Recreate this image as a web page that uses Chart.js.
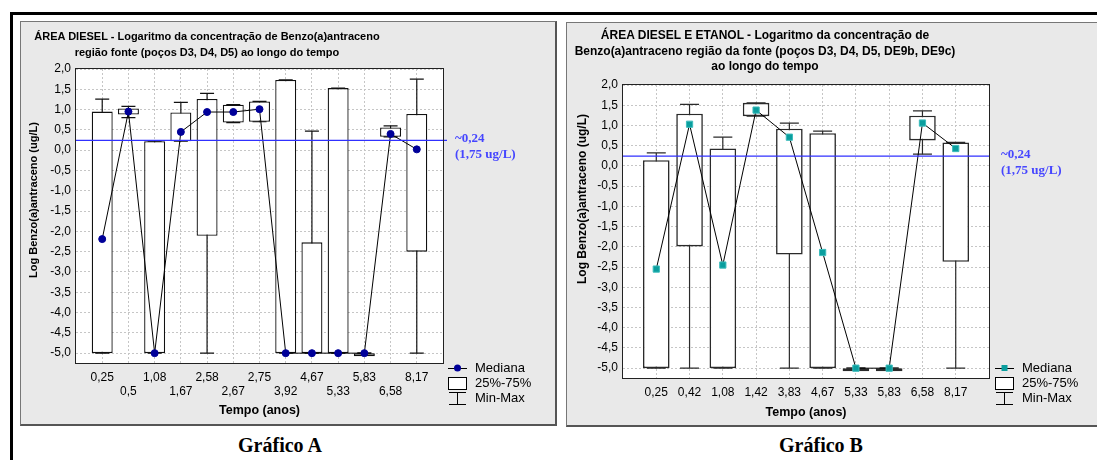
<!DOCTYPE html>
<html>
<head>
<meta charset="utf-8">
<script src="https://cdn.jsdelivr.net/npm/chart.js@4.4.1/dist/chart.umd.min.js"></script>
<style>
  body { margin:0; width:1097px; height:460px; background:#fff; overflow:hidden; position:relative;
         font-family:'Liberation Sans', Arial, sans-serif; color:#000; }
  .frame-top { position:absolute; left:10px; top:12px; width:1087px; height:3px; background:#000; }
  .frame-left { position:absolute; left:10px; top:12px; width:3px; height:448px; background:#000; }
  .panel { position:absolute; background:#e9e9e9; box-sizing:border-box;
           border:1px solid #777; border-right:2px solid #555; border-bottom:2px solid #555; }
  canvas { position:absolute; }
  .title { position:absolute; font-weight:bold; font-size:11px; line-height:16px; text-align:center; white-space:nowrap; }
  .ytitle { position:absolute; width:300px; height:16px; line-height:16px; font-weight:bold; font-size:11px;
            text-align:center; white-space:nowrap; transform:rotate(-90deg); }
  .caption { position:absolute; width:200px; line-height:24px; text-align:center; font-weight:bold; font-size:20px;
             font-family:'Liberation Serif', 'Times New Roman', serif; }
</style>
</head>
<body>
<div class="frame-top"></div>
<div class="frame-left"></div>
<div class="panel" style="left:20px;top:21px;width:537px;height:405px"></div>
<div class="panel" style="left:566px;top:22px;width:545px;height:405px"></div>

<canvas id="chartA" width="535" height="402" style="left:21px;top:22px"></canvas>
<canvas id="chartB" width="530" height="402" style="left:567px;top:23px"></canvas>

<div class="title" style="left:7px;top:28px;width:400px">ÁREA DIESEL - Logaritmo da concentração de Benzo(a)antraceno<br>região fonte (poços D3, D4, D5) ao longo do tempo</div>
<div class="title" style="left:565px;top:28px;width:400px;line-height:15.5px;font-size:12px">ÁREA DIESEL E ETANOL - Logaritmo da concentração de<br>Benzo(a)antraceno região da fonte (poços D3, D4, D5, DE9b, DE9c)<br>ao longo do tempo</div>
<div class="ytitle" style="left:-117px;top:192px">Log Benzo(a)antraceno (ug/L)</div>
<div class="ytitle" style="left:432px;top:191px;font-size:12px">Log Benzo(a)antraceno (ug/L)</div>
<div class="caption" style="left:180px;top:433px">Gráfico A</div>
<div class="caption" style="left:721px;top:433px">Gráfico B</div>

<script>
// Gráfico A - área diesel
const catsA = ['0,25', '0,5', '1,08', '1,67', '2,58', '2,67', '2,75', '3,92', '4,67', '5,33', '5,83', '6,58', '8,17'];
const minA  = [-5, 0.80, -5, 0.22, -5, 0.68, 0.70, -5, -5, -5, -5, 0.33, -5];
const q1A   = [-5, 0.88, -5, 0.22, -2.11, 0.68, 0.70, -5, -5, -5, -5, 0.33, -2.50];
const medA  = [-2.19, 0.95, -5, 0.45, 0.94, 0.94, 1.01, -5, -5, -5, -5, 0.40, 0.02];
const q3A   = [0.95, 1.03, 0.22, 0.93, 1.26, 1.12, 1.20, 1.73, -2.27, 1.53, -5, 0.56, 0.89];
const maxA  = [1.26, 1.08, 0.22, 1.18, 1.40, 1.12, 1.20, 1.73, 0.47, 1.53, -5, 0.60, 1.75];

// Gráfico B - área diesel e etanol
const catsB = ['0,25', '0,42', '1,08', '1,42', '3,83', '4,67', '5,33', '5,83', '6,58', '8,17'];
const minB  = [-5, -5, -5, 1.23, -5, -5, -5, -5, 0.29, -5];
const q1B   = [-5, -1.99, -5, 1.23, -2.19, -5, -5, -5, 0.63, -2.37];
const medB  = [-2.55, 1.03, -2.45, 1.38, 0.71, -2.14, -5, -5, 1.06, 0.43];
const q3B   = [0.14, 1.29, 0.43, 1.56, 0.92, 0.81, -5, -5, 1.24, 0.58];
const maxB  = [0.32, 1.52, 0.71, 1.56, 1.06, 0.86, -5, -5, 1.36, 0.58];

const yTicks = [-5, -4.5, -4, -3.5, -3, -2.5, -2, -1.5, -1, -0.5, 0, 0.5, 1, 1.5, 2];
const threshold = 0.24;
const thresholdLabel = ['~0,24', '(1,75 ug/L)'];
const legendItems = ['Mediana', '25%-75%', 'Min-Max'];
const xTitle = 'Tempo (anos)';

Chart.defaults.font.family = "'Liberation Sans', Arial, sans-serif";
Chart.defaults.color = '#000';

const fmt = v => v.toFixed(1).replace('.', ',');

// white plot area, threshold line, frame and legend
const boxExtras = {
  id: 'boxExtras',
  beforeDraw(chart) {
    const {ctx, chartArea: a} = chart;
    ctx.save();
    ctx.fillStyle = '#fff';
    ctx.fillRect(a.left, a.top, a.width, a.height);
    ctx.restore();
  },
  afterDatasetsDraw(chart, args, opts) {
    const {ctx, chartArea: a} = chart;
    const y = chart.scales.y;
    const py = y.getPixelForValue(threshold);
    ctx.save();
    ctx.strokeStyle = '#3030ff';
    ctx.lineWidth = 1.3;
    ctx.beginPath();
    ctx.moveTo(a.left, py);
    ctx.lineTo(a.right + opts.lineOver, py);
    ctx.stroke();
    ctx.fillStyle = '#4646ff';
    ctx.font = "bold 13px 'Liberation Serif', 'Times New Roman', serif";
    ctx.textBaseline = 'middle';
    ctx.fillText(thresholdLabel[0], a.right + 12, py - 2);
    ctx.fillText(thresholdLabel[1], a.right + 12, py + 14);
    // plot frame
    ctx.strokeStyle = '#222';
    ctx.lineWidth = 1;
    ctx.strokeRect(Math.round(a.left) - 0.5, Math.round(a.top) - 0.5, Math.round(a.width) + 1, Math.round(a.height) + 1);
    ctx.restore();
  },
  afterDraw(chart, args, opts) {
    const ctx = chart.ctx;
    const tx = opts.x, sx = tx - 27;
    ctx.save();
    ctx.font = "13px 'Liberation Sans', Arial, sans-serif";
    ctx.fillStyle = '#000';
    ctx.textBaseline = 'middle';
    legendItems.forEach((t, i) => ctx.fillText(t, tx, opts.y + i * 15));
    // Mediana
    let yy = opts.y;
    ctx.strokeStyle = '#000';
    ctx.lineWidth = 1;
    ctx.beginPath(); ctx.moveTo(sx, yy + 0.5); ctx.lineTo(sx + 19, yy + 0.5); ctx.stroke();
    ctx.fillStyle = opts.markerColor;
    if (opts.marker === 'rect') {
      ctx.fillRect(sx + 6.5, yy - 3, 6, 6);
    } else {
      ctx.beginPath(); ctx.arc(sx + 9.5, yy, 3.5, 0, Math.PI * 2); ctx.fill();
    }
    // 25%-75%
    yy = opts.y + 15;
    ctx.fillStyle = '#fff';
    ctx.fillRect(sx + 0.5, yy - 5.5, 18, 12);
    ctx.strokeRect(sx + 0.5, yy - 5.5, 18, 12);
    // Min-Max
    yy = opts.y + 30;
    ctx.beginPath();
    ctx.moveTo(sx + 1, yy - 5.5); ctx.lineTo(sx + 18, yy - 5.5);
    ctx.moveTo(sx + 1, yy + 6.5); ctx.lineTo(sx + 18, yy + 6.5);
    ctx.moveTo(sx + 9.5, yy - 5.5); ctx.lineTo(sx + 9.5, yy + 6.5);
    ctx.stroke();
    ctx.restore();
  }
};

function makeBoxChart(id, cats, mins, q1s, meds, q3s, maxs, look) {
  const stems = [];
  cats.forEach((c, i) => {
    stems.push({x: i, y: mins[i]}, {x: i, y: maxs[i]}, {x: i, y: null});
  });
  const caps = [];
  cats.forEach((c, i) => {
    caps.push({x: i, y: mins[i]}, {x: i, y: maxs[i]});
  });

  return new Chart(document.getElementById(id), {
    type: 'bar',
    data: {
      datasets: [
        {
          type: 'line', label: 'Mediana', order: 0,
          data: meds.map((v, i) => ({x: i, y: v})),
          borderColor: '#000', borderWidth: 1, tension: 0,
          pointStyle: look.marker, pointRadius: look.markerRadius,
          pointBackgroundColor: look.markerColor, pointBorderColor: look.markerBorder, pointBorderWidth: 1
        },
        {
          type: 'bar', label: '25%-75%', order: 1,
          data: q1s.map((v, i) => ({x: i, y: [v, q3s[i]]})),
          backgroundColor: '#fff', borderColor: look.boxColor, borderWidth: look.boxWidth,
          borderSkipped: false, barPercentage: 0.8, categoryPercentage: 1, minBarLength: 3
        },
        {
          type: 'line', label: 'caps', order: 2, data: caps, showLine: false,
          pointStyle: 'line', pointRadius: look.capRadius, pointBorderWidth: 1.2,
          pointBorderColor: look.boxColor, pointBackgroundColor: look.boxColor
        },
        {
          type: 'line', label: 'Min-Max', order: 3, data: stems, spanGaps: false,
          borderColor: look.boxColor, borderWidth: 1.2, pointRadius: 0
        }
      ]
    },
    options: {
      responsive: false,
      animation: false,
      events: [],
      layout: { padding: look.padding },
      plugins: {
        legend: { display: false },
        tooltip: { enabled: false },
        boxExtras: { x: look.legendX, y: look.legendY, marker: look.marker, markerColor: look.markerColor, lineOver: look.lineOver }
      },
      scales: {
        x: {
          type: 'linear', min: -1, max: cats.length, offset: false,
          afterBuildTicks: s => { s.ticks = cats.map((c, i) => ({value: i})); },
          afterFit: s => { s.height = look.xHeight; },
          ticks: {
            autoSkip: false, maxRotation: 0, padding: 7, font: { size: 12 },
            callback: v => {
              const i = Math.round(v);
              return (look.stagger && i % 2) ? ['', cats[i]] : cats[i];
            }
          },
          grid: { color: '#c6c6c6', drawTicks: false, offset: false },
          border: { display: false, dash: [2, 2] },
          title: { display: true, text: xTitle, font: { size: 12.5, weight: 'bold' }, padding: { top: 0, bottom: 4 } }
        },
        y: {
          min: -5.25, max: 2,
          afterBuildTicks: s => { s.ticks = yTicks.map(v => ({value: v})); },
          afterFit: s => { s.width = 40; },
          ticks: { padding: 5, font: { size: 12 }, callback: v => fmt(v) },
          grid: { color: '#c6c6c6', drawTicks: false },
          border: { display: false, dash: [2, 2] }
        }
      }
    },
    plugins: [boxExtras]
  });
}

makeBoxChart('chartA', catsA, minA, q1A, medA, q3A, maxA, {
  marker: 'circle', markerRadius: 3.5, markerColor: '#000099', markerBorder: '#000099',
  boxColor: '#111', boxWidth: 1.3, capRadius: 7, stagger: true, lineOver: 4,
  padding: { left: 15, top: 47, right: 113, bottom: 2 }, xHeight: 58.7,
  legendX: 454, legendY: 346
});

makeBoxChart('chartB', catsB, minB, q1B, medB, q3B, maxB, {
  marker: 'rect', markerRadius: 4.4, markerColor: '#0a9e9e', markerBorder: '#3cbcbc',
  boxColor: '#2a2a2a', boxWidth: 1.6, capRadius: 9.5, stagger: false, lineOver: 0,
  padding: { left: 16, top: 62, right: 108, bottom: 0.5 }, xHeight: 46.2,
  legendX: 455, legendY: 345
});
</script>
</body>
</html>
